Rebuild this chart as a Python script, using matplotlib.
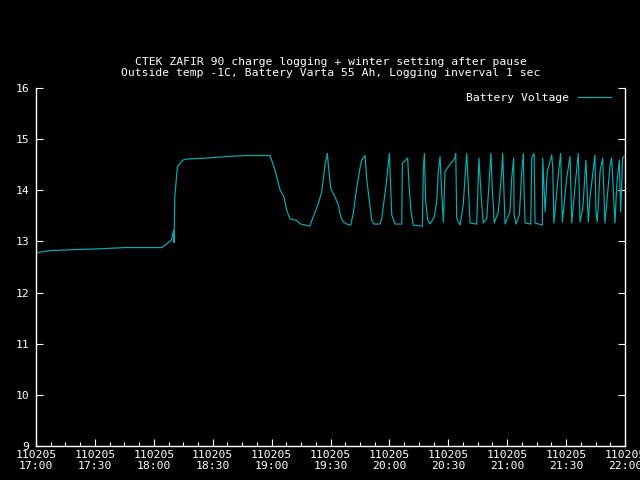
import matplotlib
matplotlib.use("Agg")
import matplotlib.pyplot as plt
import matplotlib.ticker as ticker

# minutes after 17:00 on 2011-02-05, battery voltage (V)
minutes = [0, 2, 7, 20, 35, 45, 64, 66.5, 69, 70, 70.3, 70.7, 71.2, 72, 74.7, 76.7,
           86.9, 97, 107.3, 119.2, 121.7, 124.3, 126.3, 127.7, 129.4, 132.8, 134.8, 139.5,
           141.2, 143.8, 145.5, 147.2, 148.4, 148.9, 150.1, 152.3, 154.0, 155.2, 156.5, 158.3,
           160.3, 161.6, 163.3, 165.0, 165.9, 167.6, 168.4, 169.8, 171.0, 172.2, 175.2, 176.1,
           178.3, 179.4, 180.0, 180.3, 181.2, 182.9, 186.3, 186.6, 189.3, 190.0, 191.0, 192.2,
           196.8, 197.3, 197.8, 198.5, 199.5, 200.7, 202.9, 204.1, 204.9, 205.8, 206.6, 207.5,
           208.3, 210.0, 213.4, 213.8, 214.3, 216.0, 217.6, 218.5, 219.4, 220.2, 221.1, 224.5,
           225.6, 226.7, 227.8, 229.6, 230.7, 231.7, 232.4, 233.4, 235.5, 237.2, 237.7, 238.9,
           241.4, 242.3, 243.3, 243.5, 244.5, 246.2, 247.4, 248.2, 248.6, 249.1, 252.0, 252.5,
           253.7, 254.2, 257.9, 258.1, 259.3, 260.4, 262.7, 263.2, 263.8, 266.0, 267.2, 268.1,
           270.3, 272.0, 272.9, 274.6, 276.2, 277.1, 278.5, 280.1, 281.3, 282.1, 284.7, 285.2,
           285.9, 287.3, 288.6, 289.8, 292.4, 293.2, 294.9, 295.8, 297.1, 297.8, 298.8, 299.5]
volts = [12.77, 12.79, 12.82, 12.84, 12.86, 12.88, 12.88, 12.95, 13.03, 13.21, 12.98, 13.87,
         14.10, 14.46, 14.59, 14.61, 14.63, 14.66, 14.68, 14.68, 14.40, 14.01, 13.87, 13.61,
         13.44, 13.41, 13.34, 13.30, 13.48, 13.74, 13.97, 14.49, 14.72, 14.49, 14.04, 13.87,
         13.71, 13.48, 13.38, 13.34, 13.32, 13.55, 14.04, 14.43, 14.59, 14.68, 14.24, 13.78,
         13.42, 13.34, 13.34, 13.45, 14.10, 14.49, 14.72, 14.40, 13.52, 13.34, 13.34, 14.53,
         14.63, 14.10, 13.58, 13.32, 13.30, 14.40, 14.72, 13.78, 13.42, 13.34, 13.48, 13.78,
         14.37, 14.66, 13.97, 13.38, 14.37, 14.46, 14.63, 14.72, 13.45, 13.32, 13.71, 14.24,
         14.72, 14.10, 13.36, 13.34, 14.63, 13.91, 13.36, 13.45, 14.10, 14.72, 14.04, 13.36,
         13.58, 14.37, 14.72, 13.34, 13.58, 14.24, 14.63, 13.52, 13.34, 13.52, 14.37, 14.72,
         13.97, 13.36, 13.34, 14.63, 14.72, 13.36, 13.32, 14.63, 13.58, 14.37, 14.69, 14.43,
         13.36, 14.30, 14.72, 13.38, 14.24, 14.66, 13.36, 14.10, 14.72, 13.38, 13.65, 14.59,
         13.38, 13.84, 14.69, 13.58, 13.38, 14.37, 14.63, 13.36, 14.49, 14.63, 13.36, 14.10,
         14.59, 13.58, 14.63, 14.66]

x_ticks = [0, 30, 60, 90, 120, 150, 180, 210, 240, 270, 300]
x_labels = ["110205\n17:00", "110205\n17:30", "110205\n18:00", "110205\n18:30",
            "110205\n19:00", "110205\n19:30", "110205\n20:00", "110205\n20:30",
            "110205\n21:00", "110205\n21:30", "110205\n22:00"]
y_ticks = [9, 10, 11, 12, 13, 14, 15, 16]

title = ("CTEK ZAFIR 90 charge logging + winter setting after pause\n"
         "Outside temp -1C, Battery Varta 55 Ah, Logging inverval 1 sec")

plt.rcParams['font.family'] = ['DejaVu Sans Mono']
plt.rcParams['font.size'] = 8.2

fig = plt.figure(figsize=(6.4, 4.8), dpi=100, facecolor='black')
ax = fig.add_axes([36/640, 34/480, 589/640, 358/480], facecolor='black')

ax.plot(minutes, volts, color='#00b0b4', lw=0.85, label='Battery Voltage')

ax.set_xlim(0, 300)
ax.set_ylim(9, 16)
ax.set_xticks(x_ticks)
ax.set_xticklabels(x_labels)
ax.set_yticks(y_ticks)
ax.xaxis.set_minor_locator(ticker.MultipleLocator(7.5))

# gnuplot style border: left, bottom, right only
ax.spines['top'].set_visible(False)
for s in ['left', 'bottom', 'right']:
    ax.spines[s].set_color('white')
    ax.spines[s].set_linewidth(1)
ax.tick_params(which='both', direction='in', colors='white', top=False, right=True,
               width=0.8)
ax.tick_params(which='major', length=5)
ax.tick_params(which='minor', length=3)
ax.tick_params(axis='x', pad=3, labelcolor='white')
ax.tick_params(axis='y', pad=5, labelcolor='white')
for lab in ax.get_xticklabels():
    lab.set_linespacing(1.1)

ax.set_title(title, color='white', fontsize=8.2, linespacing=1.1, pad=9)

leg = ax.legend(loc='upper right', bbox_to_anchor=(0.984, 1.0), frameon=False,
                markerfirst=False, handlelength=2.9, borderaxespad=0,
                labelcolor='white')

fig.savefig('out.png', dpi=100, facecolor='black')
